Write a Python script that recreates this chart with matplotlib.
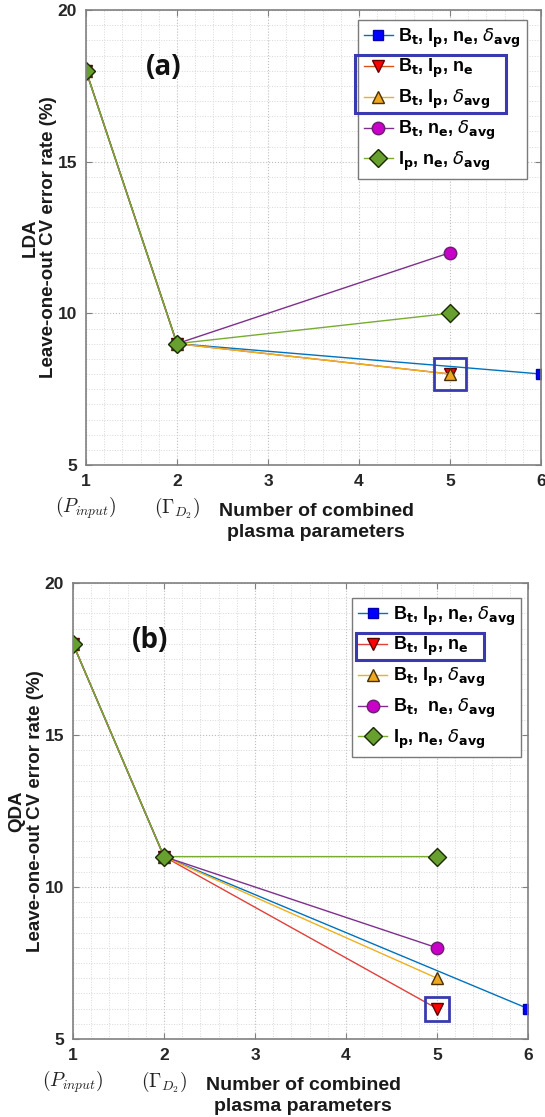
import matplotlib
matplotlib.use('Agg')
import matplotlib.pyplot as plt
from matplotlib.ticker import MultipleLocator
from matplotlib.patches import Rectangle

# data
x_steps = [1, 2, 5]
x_steps_all = [1, 2, 6]
series_labels = [r'B$_\mathbf{t}$, I$_\mathbf{p}$, n$_\mathbf{e}$, $\delta_\mathbf{avg}$',
                 r'B$_\mathbf{t}$, I$_\mathbf{p}$, n$_\mathbf{e}$',
                 r'B$_\mathbf{t}$, I$_\mathbf{p}$, $\delta_\mathbf{avg}$',
                 r'B$_\mathbf{t}$, n$_\mathbf{e}$, $\delta_\mathbf{avg}$',
                 r'I$_\mathbf{p}$, n$_\mathbf{e}$, $\delta_\mathbf{avg}$']
series_labels_b = list(series_labels)
series_labels_b[3] = r'B$_\mathbf{t}$,  n$_\mathbf{e}$, $\delta_\mathbf{avg}$'

lda_bt_ip_ne_d = [18, 9, 8]
lda_bt_ip_ne = [18, 9, 8]
lda_bt_ip_d = [18, 9, 8]
lda_bt_ne_d = [18, 9, 12]
lda_ip_ne_d = [18, 9, 10]

qda_bt_ip_ne_d = [18, 11, 6]
qda_bt_ip_ne = [18, 11, 6]
qda_bt_ip_d = [18, 11, 7]
qda_bt_ne_d = [18, 11, 8]
qda_ip_ne_d = [18, 11, 11]

x_ticks = [1, 2, 3, 4, 5, 6]
y_ticks = [5, 10, 15, 20]

W, H = 545, 1117
fig = plt.figure(figsize=(W / 100, H / 100), dpi=100)
ax_a = fig.add_axes([86 / W, 1 - 465 / H, 455 / W, 455 / H])
ax_b = fig.add_axes([73 / W, 1 - 1039 / H, 455 / W, 456 / H])


def styles(red_line):
    return [
        dict(color='#0072BD', marker='s', mfc='#0000ff', mec='#0000b0', ms=7),
        dict(color=red_line, marker='v', mfc='#ff0000', mec='#600000', ms=9),
        dict(color='#EDB120', marker='^', mfc='#EDA820', mec='#4a3000', ms=9),
        dict(color='#7E2F8E', marker='o', mfc='#c800c8', mec='#6a1f70', ms=9),
        dict(color='#77AC30', marker='D', mfc='#68a030', mec='#1a2a00', ms=9),
    ]


def draw_panel(ax, data, labels, red_line, tag, ylab, leg_anchor, hl_point, hl_size):
    for (xs, ys), st, lab in zip(data, styles(red_line), labels):
        ax.plot(xs, ys, lw=1.0, label=lab, **st)
    # highlight box around the chosen point
    px, py = hl_point
    ax.plot([px], [py], marker='s', ms=hl_size, mfc='none', mec='#3a3ab0', mew=2.0, zorder=5)

    ax.set_xlim(1, 6)
    ax.set_ylim(5, 20)
    ax.set_xticks(x_ticks)
    ax.set_yticks(y_ticks)
    ax.xaxis.set_minor_locator(MultipleLocator(0.2))
    ax.yaxis.set_minor_locator(MultipleLocator(0.5))
    ax.grid(True, which='major', ls=':', color='#bdbdbd', lw=0.8)
    ax.grid(True, which='minor', ls=':', color='#d8d8d8', lw=0.7)
    ax.tick_params(which='both', direction='in', top=True, right=True, colors='#808080',
                   labelcolor='#262626', labelsize=12.5)
    ax.tick_params(which='minor', length=0)
    ax.tick_params(which='major', length=4, pad=6.5)
    for lab in ax.get_xticklabels() + ax.get_yticklabels():
        lab.set_fontweight('bold')
        lab.set_family('Liberation Sans')
    for sp in ax.spines.values():
        sp.set_color('#808080')
        sp.set_linewidth(1.2)

    ax.set_ylabel(ylab + '\nLeave-one-out CV error rate (%)', fontsize=13.5, fontweight='bold',
                  family='Liberation Sans', color='#1a1a1a', labelpad=0, linespacing=1.15)

    ax.text(1.85, 18.1, tag, fontsize=20, fontweight='bold', family='Open Sans',
            ha='center', va='center', color='#111111')

    # axis notes under the tick labels
    ax.annotate(r'$(P_{input})$', xy=(1, 0), xycoords=('data', 'axes fraction'),
                xytext=(0, -31), textcoords='offset points', ha='center', va='center',
                fontsize=14, math_fontfamily='cm', color='#222222')
    ax.annotate(r'$(\Gamma_{D_2})$', xy=(2, 0), xycoords=('data', 'axes fraction'),
                xytext=(0, -31), textcoords='offset points', ha='center', va='center',
                fontsize=14, math_fontfamily='cm', color='#222222')
    ax.annotate('Number of combined\nplasma parameters', xy=(3.53, 0),
                xycoords=('data', 'axes fraction'), xytext=(0, -41), textcoords='offset points',
                ha='center', va='center', fontsize=14, fontweight='bold',
                family='Liberation Sans', color='#1a1a1a', linespacing=1.25)

    leg = ax.legend(loc='upper right', bbox_to_anchor=leg_anchor, borderaxespad=0,
                    prop=dict(family='Liberation Sans', weight='bold', size=13),
                    fancybox=False, edgecolor='#7a7a7a', framealpha=1, handlelength=1.6,
                    handletextpad=0.3, labelspacing=0.42, borderpad=0.35)
    leg.get_frame().set_linewidth(1.0)
    return leg


leg_a = draw_panel(
    ax_a,
    [(x_steps_all, lda_bt_ip_ne_d), (x_steps, lda_bt_ip_ne), (x_steps, lda_bt_ip_d),
     (x_steps, lda_bt_ne_d), (x_steps, lda_ip_ne_d)],
    series_labels, '#D95319', '(a)', 'LDA', (0.969, 0.978),
    (x_steps[-1], lda_bt_ip_ne[-1]), 23)

leg_b = draw_panel(
    ax_b,
    [(x_steps_all, qda_bt_ip_ne_d), (x_steps, qda_bt_ip_ne), (x_steps, qda_bt_ip_d),
     (x_steps, qda_bt_ne_d), (x_steps, qda_ip_ne_d)],
    series_labels_b, '#e0403a', '(b)', 'QDA', (0.985, 0.967),
    (x_steps[-1], qda_bt_ip_ne[-1]), 17)

# blue boxes around the highlighted legend rows
fig.canvas.draw()
rend = fig.canvas.get_renderer()
for leg, rows, dx in [(leg_a, [1, 2], -3), (leg_b, [1], 4)]:
    frame = leg.get_frame().get_window_extent(rend)
    tb = [leg.get_texts()[i].get_window_extent(rend) for i in rows]
    x0 = frame.x0 + dx
    x1 = max(b.x1 for b in tb) + 16
    y0 = min(b.y0 for b in tb) - 2
    y1 = max(b.y1 for b in tb) + 2
    inv = fig.transFigure.inverted()
    (fx0, fy0), (fx1, fy1) = inv.transform([(x0, y0), (x1, y1)])
    fig.patches.append(Rectangle((fx0, fy0), fx1 - fx0, fy1 - fy0, fill=False,
                                 ec='#3a3ab0', lw=2.2, transform=fig.transFigure, zorder=10))

fig.savefig('out.png', dpi=100)
